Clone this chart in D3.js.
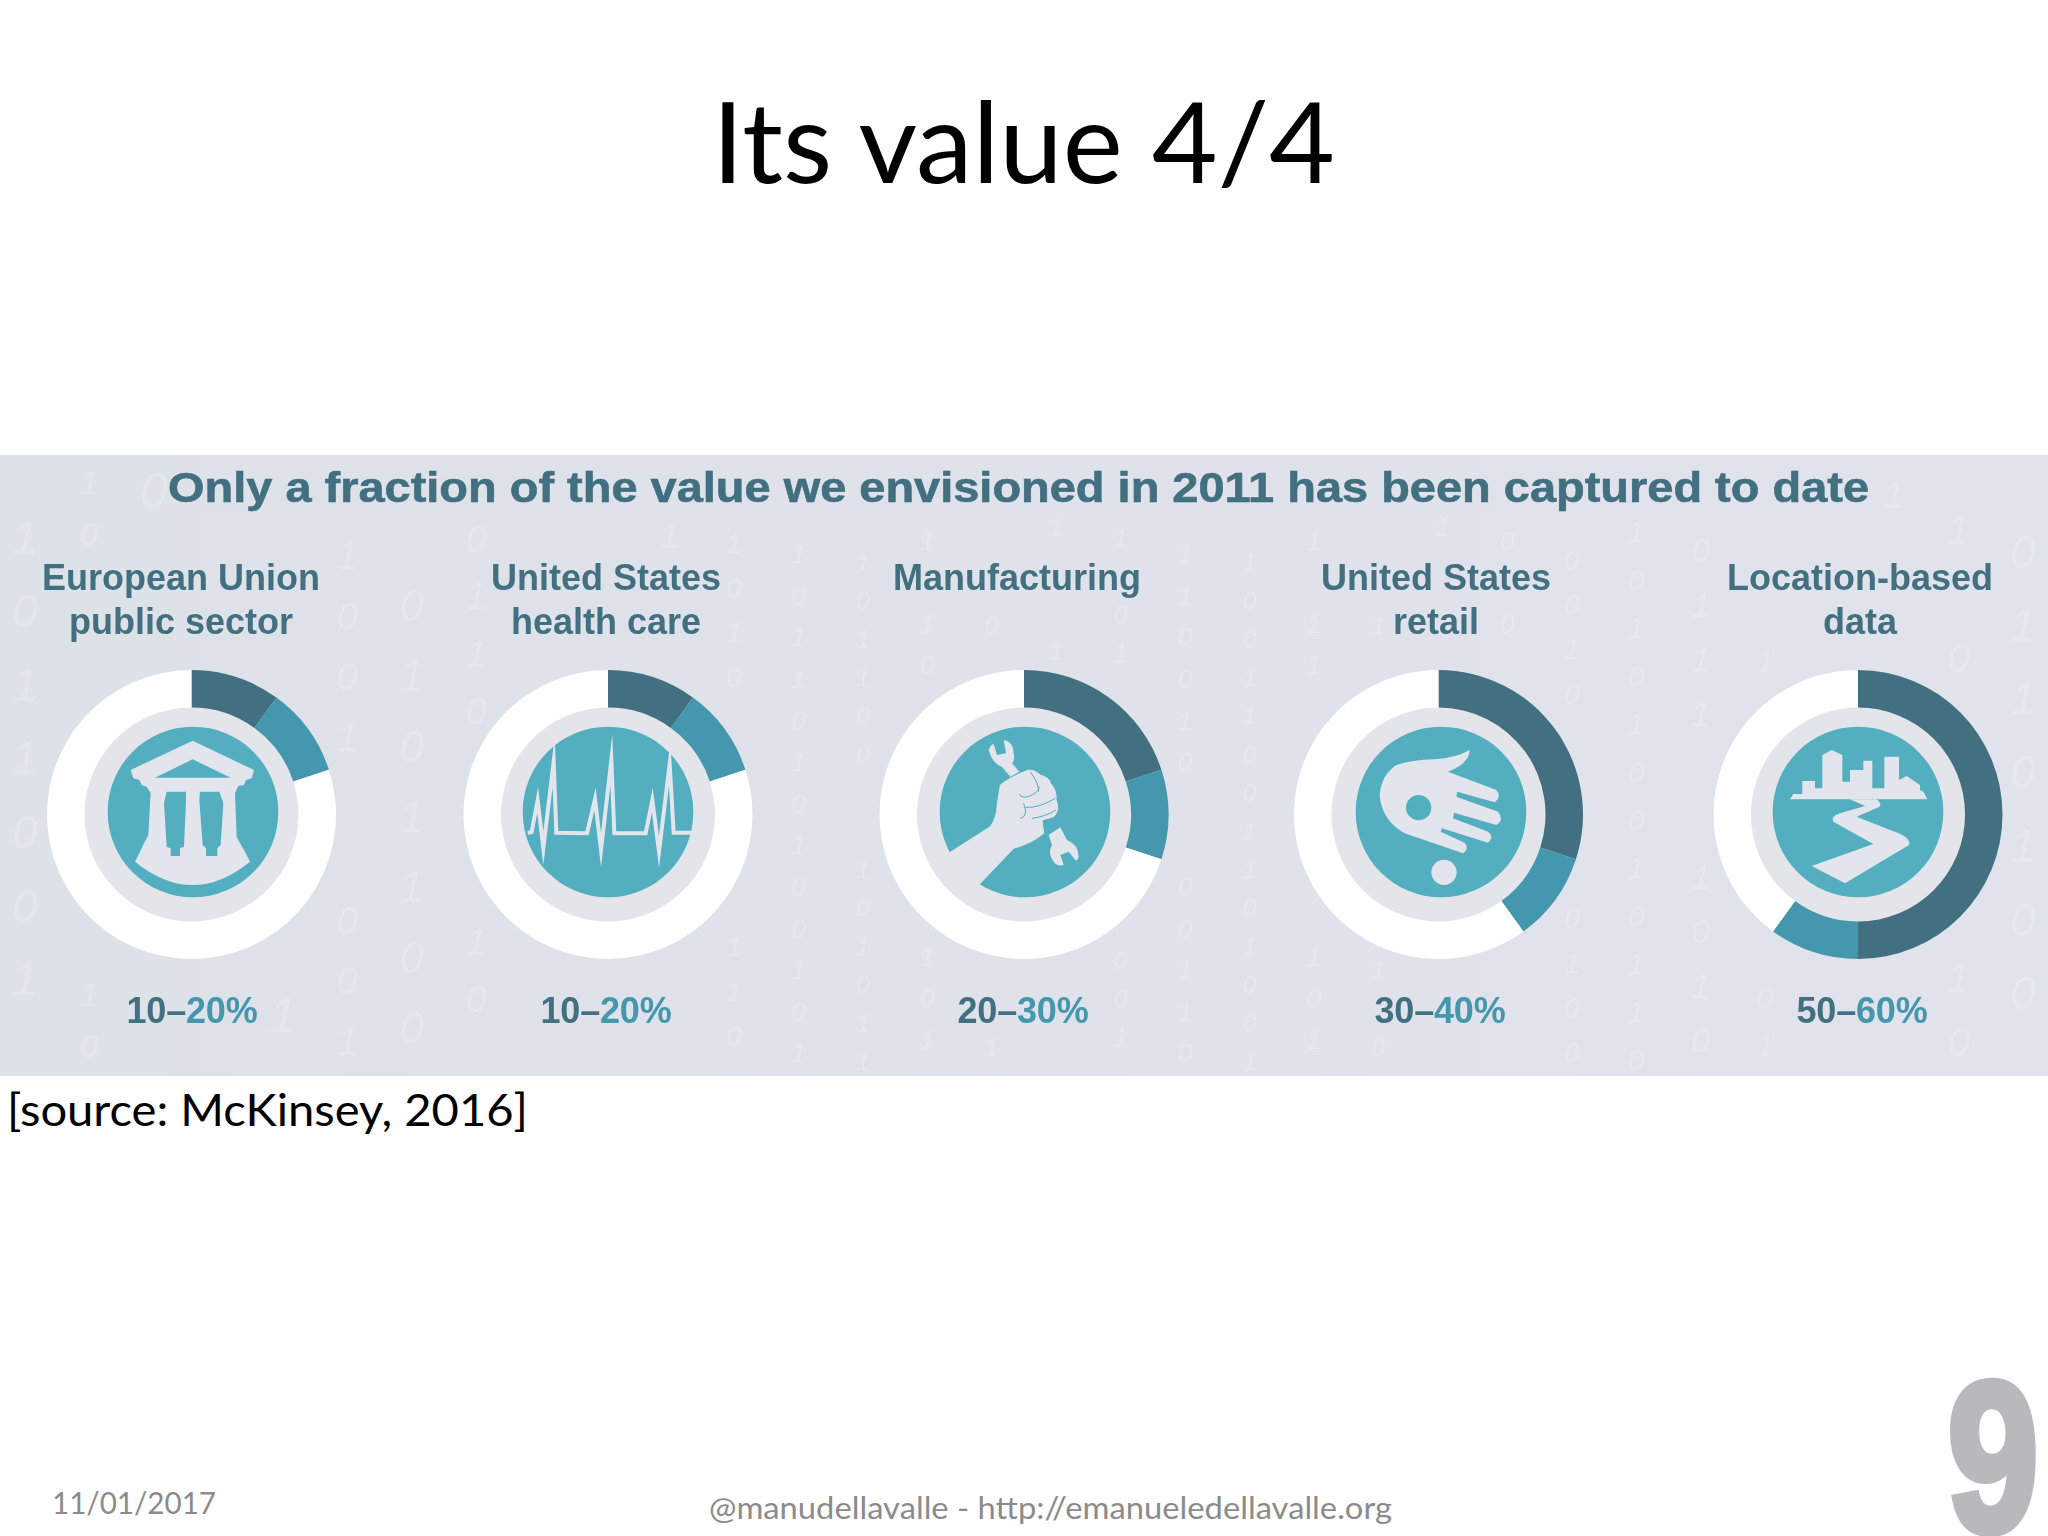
<!DOCTYPE html>
<html lang="en">
<head>
<meta charset="utf-8">
<script src="https://d3js.org/d3.v7.min.js"></script>
<style>
  html, body { margin: 0; background: #fff; }
  svg { display: block; }
</style>
</head>
<body>
<div id="slide"></div>
<script>
// values
const sectors = ["European Union|public sector", "United States|health care", "Manufacturing", "United States|retail", "Location-based|data"];
const lowValues = [10, 10, 20, 30, 50];
const highValues = [20, 20, 30, 40, 60];
const iconNames = ["temple", "pulse", "wrench", "hand", "city"];

// slide text
const slideTitle = "Its value 4/4";
const panelTitle = "Only a fraction of the value we envisioned in 2011 has been captured to date";
const sourceNote = "[source: McKinsey, 2016]";
const footerDate = "11/01/2017";
const footerCredit = "@manudellavalle - http://emanueledellavalle.org";
const slideNumber = "9";

// faint binary digits behind the panel
const digitColumns = ["0101100101", "1001011010", "0110100110", "1010010110", "0011010101", "1100101001", "0101011001", "1011001010",
  "0110010110", "1001101001", "0100110101", "1101001010", "0010110101", "1010110010", "0101001101", "1001010110",
  "0110101001", "1100100110", "0011001011", "1010011001", "0101101010", "1001100101", "0110011010", "1010101100",
  "0100101101", "1101010010", "0011100101", "1010100110", "0101010011", "1001001101", "0110110010", "1011010001"];
const digitSizes = [46, 32, 50, 40, 48, 38, 44, 36, 36, 30, 34, 28, 26, 24, 26, 24, 26, 24, 26, 24, 26, 24, 26, 26, 28, 30, 34, 30, 36, 38, 40, 46];

const dark = "#426f80", light = "#4597ad", teal = "#52aebf", pale = "#e3e5ec", disc = "#e4e5ea";
const width = 2048, height = 1536;

const svg = d3.select("#slide").append("svg")
  .attr("width", width)
  .attr("height", height)
  .style("background", "#fff");

const defs = svg.append("defs");
const grad = defs.append("linearGradient").attr("id", "bandFill");
grad.append("stop").attr("offset", "0").attr("stop-color", "#dde1e8");
grad.append("stop").attr("offset", "1").attr("stop-color", "#e1e3ec");
defs.append("clipPath").attr("id", "bandClip")
  .append("rect").attr("width", width).attr("y", 455).attr("height", 621);
defs.append("filter").attr("id", "soft")
  .attr("x", "-2%").attr("y", "-2%").attr("width", "104%").attr("height", "104%")
  .append("feGaussianBlur").attr("stdDeviation", 0.7);

// slide title
svg.append("text")
  .attr("x", 1023.5).attr("y", 183)
  .attr("text-anchor", "middle")
  .attr("font-family", "Lato")
  .attr("font-size", 113)
  .attr("fill", "#000")
  .attr("textLength", 623)
  .attr("lengthAdjust", "spacingAndGlyphs")
  .text(slideTitle);

// the panel, it is a soft screenshot in the original
const panel = svg.append("g").attr("filter", "url(#soft)");
panel.append("rect")
  .attr("y", 455).attr("width", width).attr("height", 621)
  .attr("fill", "url(#bandFill)");

// binary background, columns repeat their digits down the panel
const digitX = d3.scalePoint().domain(d3.range(digitColumns.length)).range([25, width - 25]);
const digitG = panel.append("g").attr("clip-path", "url(#bandClip)");
digitColumns.forEach(function (col, i) {
  const size = digitSizes[i];
  const step = size * 1.6;
  d3.range(0, Math.ceil(620 / step)).forEach(function (j) {
    digitG.append("text")
      .attr("class", "digit")
      .attr("x", digitX(i))
      .attr("y", 480 + (i % 3) * 14 + j * step)
      .attr("text-anchor", "middle")
      .attr("font-family", "Liberation Sans")
      .attr("font-style", "italic")
      .attr("font-size", size)
      .attr("fill", "#fff")
      .attr("fill-opacity", 0.2)
      .text(col[j % col.length]);
  });
});

// panel heading
panel.append("text")
  .attr("class", "label")
  .attr("x", 1018.5).attr("y", 502)
  .attr("text-anchor", "middle")
  .attr("font-family", "Liberation Sans")
  .attr("font-weight", "bold")
  .attr("font-size", 42)
  .attr("fill", dark)
  .attr("stroke", dark)
  .attr("stroke-width", 0.6)
  .attr("textLength", 1701)
  .attr("lengthAdjust", "spacingAndGlyphs")
  .text(panelTitle);

// scales for the five donuts
const slotX = d3.scaleOrdinal().domain(d3.range(sectors.length)).range([191.5, 608, 1024, 1438.5, 1858]);
const labelX = d3.scaleOrdinal().domain(d3.range(sectors.length)).range([181, 606, 1017, 1436, 1860]);
const valueX = d3.scaleOrdinal().domain(d3.range(sectors.length)).range([192, 606, 1023, 1440, 1862]);
const iconLeft = d3.scaleOrdinal().domain(iconNames).range([100, 515, 932, 1348, 1765]);

const pie = d3.pie().sort(null).value(d => d);
const arc = d3.arc().innerRadius(107).outerRadius(144.5);
const sliceColor = d3.scaleOrdinal().domain([0, 1, 2]).range([dark, light, "#fff"]);

// icons in a 570 unit square that is three times the drawn size
const icons = {
  temple: function (g) {
    g.append("path").attr("fill-rule", "evenodd").attr("fill", pale)
      .attr("d", "M278,62L462,150L455,175L438,180L432,195L415,198L405,220L410,350L420,370L432,390L445,415L450,425Q278,565 105,425L120,395L132,370L145,345L152,220L140,200L125,195L118,180L100,175L92,150Z"
        + "M278,118L392,173L165,173Z"
        + "M200,215L258,215L258,240L252,380L240,385L240,408L212,408L212,385L200,380L192,250Z"
        + "M300,215L358,215L370,250L362,375L352,385L352,408L318,408L318,385L308,375L298,240Z");
  },
  pulse: function (g) {
    g.append("path").attr("fill", "none").attr("stroke", pale).attr("stroke-width", 12)
      .attr("stroke-linejoin", "miter").attr("stroke-miterlimit", 30)
      .attr("d", "M38,338L50,336L68,240L85,385L116,125L124,338L216,340L240,237L258,390L289,120L298,340L392,340L412,240L432,395L464,132L476,338L533,338");
  },
  wrench: function (g) {
    g.append("path").attr("fill", pale).attr("stroke", pale).attr("stroke-width", 3)
      .attr("d", "M50,400L175,320Q195,290 195,260L205,195Q230,175 265,160L290,150Q310,150 325,165Q355,175 355,190Q375,210 372,240Q385,270 365,290L330,300L335,340Q300,370 245,385L140,495A257,257 0 0 1 50,400Z");
    g.append("path").attr("fill", pale)
      .attr("d", "M170,90Q175,75 185,72L195,105L222,100L215,60Q245,65 245,100Q250,120 240,130L262,155L235,170L210,140Q180,130 170,90Z");
    g.append("path").attr("fill", pale)
      .attr("d", "M350,345L385,322L405,360Q440,375 440,410Q435,425 430,420L410,395L385,405L395,435Q375,440 365,425Q345,400 360,375Z");
    g.append("path").attr("fill", "none").attr("stroke", teal).attr("stroke-width", 3)
      .attr("d", "M262,222Q270,240 300,225Q320,215 322,200M280,262Q320,265 370,235M265,295Q290,290 275,250M300,295Q340,290 372,270M295,155Q320,190 320,215");
  },
  hand: function (g) {
    g.append("path").attr("fill", pale)
      .attr("d", "M95,225Q100,165 145,135Q190,120 260,118Q320,115 365,90Q365,130 300,155L445,210Q462,230 440,247L328,215L325,230L450,275Q470,300 445,315L318,278L315,295L420,335Q440,350 420,368L282,325L278,335L350,368Q365,385 345,400L170,340Q100,300 95,225Z");
    g.append("circle").attr("cx", 212).attr("cy", 263).attr("r", 38).attr("fill", teal);
    g.append("circle").attr("cx", 288).attr("cy", 457).attr("r", 38).attr("fill", pale);
  },
  city: function (g) {
    g.append("path").attr("fill", pale)
      .attr("d", "M75,238L85,222L112,222L112,183L150,183L150,205L172,205L172,105L200,90L232,105L232,185L255,185L255,150L295,150L295,122L322,122L322,205L358,205L358,110L402,110L402,180L425,168L465,195L465,210L475,215L487,238Z");
    g.append("path").attr("fill", pale)
      .attr("d", "M255,238L335,238Q355,255 340,262L275,290L375,330Q440,350 432,375L240,490L140,438L325,372L205,305Q195,290 225,280L300,258Z");
  }
};

sectors.forEach(function (name, i) {
  const low = lowValues[i], high = highValues[i];
  const cx = slotX(i), cy = 814.5;

  // label above
  name.split("|").forEach(function (line, k) {
    panel.append("text")
      .attr("class", "label")
      .attr("x", labelX(i)).attr("y", 589.5 + k * 44)
      .attr("text-anchor", "middle")
      .attr("font-family", "Liberation Sans")
      .attr("font-weight", "bold")
      .attr("font-size", 36)
      .attr("fill", dark)
      .text(line);
  });

  const g = panel.append("g").attr("transform", `translate(${cx},${cy})`);
  g.append("circle").attr("r", 110).attr("fill", disc);
  g.selectAll("path")
    .data(pie([low, high - low, 100 - high]))
    .join("path")
    .attr("d", arc)
    .attr("fill", (d, j) => sliceColor(j));

  // icon disc
  const ig = panel.append("g")
    .attr("transform", `translate(${iconLeft(iconNames[i])},720) scale(${1 / 3})`);
  ig.append("circle").attr("cx", 279).attr("cy", 276).attr("r", 256).attr("fill", teal);
  icons[iconNames[i]](ig);

  // range label below
  const t = panel.append("text")
    .attr("class", "label")
    .attr("x", valueX(i)).attr("y", 1023)
    .attr("text-anchor", "middle")
    .attr("font-family", "Liberation Sans")
    .attr("font-weight", "bold")
    .attr("font-size", 36)
    .attr("letter-spacing", -0.2);
  t.append("tspan").attr("fill", dark).text(low + "–");
  t.append("tspan").attr("fill", light).text(high + "%");
});

// drop the digits that would sit under a label or a donut, or run past the panel
const labelBoxes = panel.selectAll("text.label").nodes().map(n => n.getBBox());
digitG.selectAll("text.digit").each(function () {
  const b = this.getBBox();
  const underLabel = labelBoxes.some(l => b.x < l.x + l.width && b.x + b.width > l.x && b.y < l.y + l.height && b.y + b.height > l.y);
  const mx = b.x + b.width / 2, my = b.y + b.height / 2;
  const underDonut = d3.range(sectors.length).some(i => Math.hypot(mx - slotX(i), my - 814.5) < 165);
  const outside = b.y < 455 || b.y + b.height > 1076;
  if (underLabel || underDonut || outside) this.remove();
});

// source note
svg.append("text")
  .attr("x", 7).attr("y", 1126)
  .attr("font-family", "Lato")
  .attr("font-size", 45)
  .attr("fill", "#000")
  .attr("textLength", 521)
  .attr("lengthAdjust", "spacingAndGlyphs")
  .text(sourceNote);

// footer
svg.append("text")
  .attr("x", 52).attr("y", 1514)
  .attr("font-family", "Lato")
  .attr("font-size", 31)
  .attr("fill", "#8b8b8b")
  .attr("textLength", 164)
  .attr("lengthAdjust", "spacingAndGlyphs")
  .text(footerDate);

svg.append("text")
  .attr("x", 709).attr("y", 1519)
  .attr("font-family", "Lato")
  .attr("font-size", 31)
  .attr("fill", "#8b8b8b")
  .attr("textLength", 683)
  .attr("lengthAdjust", "spacingAndGlyphs")
  .text(footerCredit);

// large page number
svg.append("text")
  .attr("transform", "translate(1993,1531) scale(0.92,1.2)")
  .attr("text-anchor", "middle")
  .attr("font-family", "Liberation Sans")
  .attr("font-weight", "bold")
  .attr("font-size", 178)
  .attr("fill", "#b9b9bd")
  .attr("stroke", "#b9b9bd")
  .attr("stroke-width", 7)
  .text(slideNumber);
</script>
</body>
</html>
